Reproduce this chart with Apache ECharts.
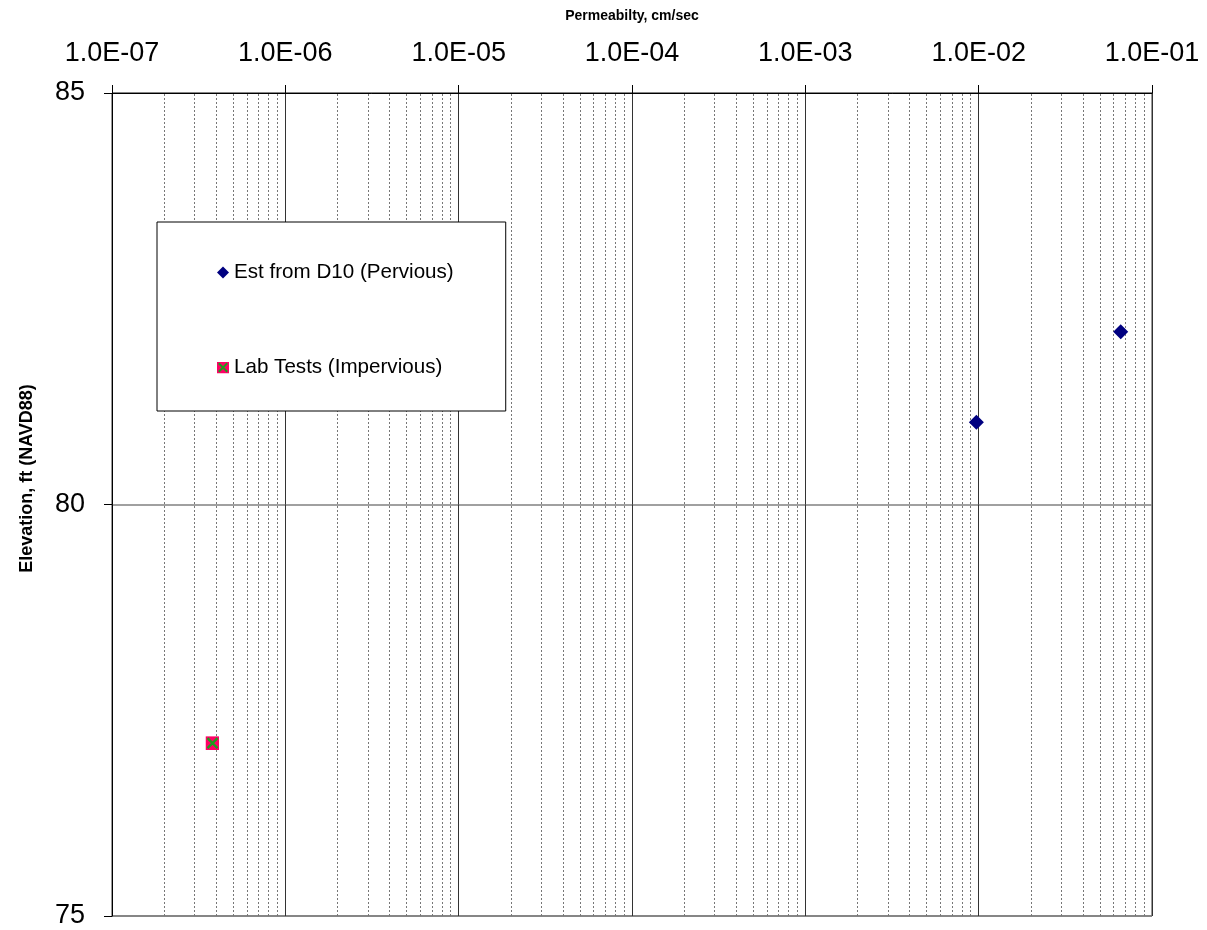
<!DOCTYPE html>
<html>
<head>
<meta charset="utf-8">
<script src="https://cdn.jsdelivr.net/npm/echarts@6/dist/echarts.min.js"></script>
<style>
html,body{margin:0;padding:0;background:#fff;}
#chart{width:1207px;height:930px;}
</style>
</head>
<body>
<div id="chart"></div>
<script>
// ---- data ----
const perviousK = [0.0097, 0.066];
const perviousElev = [81.0, 82.1];
const labK = [3.8e-7];
const labElev = [77.1];
const xTickLabels = ['1.0E-07', '1.0E-06', '1.0E-05', '1.0E-04', '1.0E-03', '1.0E-02', '1.0E-01'];
const xDecadeExps = [-7, -6, -5, -4, -3, -2, -1];
const minorMultipliers = [2, 3, 4, 5, 6, 7, 8, 9];
const yTicks = [75, 80, 85];

const seriesNames = ['Est from D10 (Pervious)', 'Lab Tests (Impervious)'];
const FONT = '"Liberation Sans", Arial, sans-serif';

// minor gridline values (2..9 × each decade)
const minorValues = [];
xDecadeExps.slice(0, -1).forEach(e => {
  minorMultipliers.forEach(m => minorValues.push(m * Math.pow(10, e)));
});

const labSvg = "<svg xmlns='http://www.w3.org/2000/svg' width='28' height='28' viewBox='0 0 28 28'>" +
  "<rect width='28' height='28' fill='#FF0066'/>" +
  "<path d='M4 4L24 24M24 4L4 24' stroke='#1E9A1E' stroke-width='4.5'/></svg>";
const labSymbol = 'image://data:image/svg+xml;charset=utf-8,' + encodeURIComponent(labSvg);

const chart = echarts.init(document.getElementById('chart'), null, {renderer: 'canvas'});

const option = {
  animation: false,
  backgroundColor: '#fff',
  grid: {
    left: 112, right: 55, top: 93, bottom: 14,
    containLabel: false,
    outerBoundsMode: 'none',
    show: true, borderColor: '#333', borderWidth: 1, backgroundColor: 'transparent'
  },
  xAxis: {
    type: 'log',
    logBase: 10,
    position: 'top',
    min: 1e-7,
    max: 1e-1,
    name: 'Permeabilty, cm/sec',
    nameLocation: 'middle',
    nameGap: 70,
    nameMoveOverlap: false,
    nameTextStyle: {fontFamily: FONT, fontSize: 14, fontWeight: 'bold', color: '#000'},
    axisLine: {show: true, lineStyle: {color: '#000', width: 1}},
    axisTick: {show: true, inside: false, length: 8, lineStyle: {color: '#000'}},
    axisLabel: {
      fontFamily: FONT, fontSize: 27, color: '#000', margin: 26,
      formatter: function (v) {
        const e = Math.round(Math.log10(v));
        const i = xDecadeExps.indexOf(e);
        return i >= 0 ? xTickLabels[i] : '';
      }
    },
    splitLine: {show: true, lineStyle: {color: '#333', width: 1}},
    minorTick: {show: false},
    minorSplitLine: {show: false}
  },
  yAxis: {
    type: 'value',
    min: yTicks[0],
    max: yTicks[yTicks.length - 1],
    interval: 5,
    name: 'Elevation, ft (NAVD88)',
    nameLocation: 'middle',
    nameGap: 76,
    nameRotate: 90,
    nameMoveOverlap: false,
    nameTextStyle: {fontFamily: FONT, fontSize: 18, fontWeight: 'bold', color: '#000', padding: [0, 0, 0, 52]},
    axisLine: {show: true, lineStyle: {color: '#000', width: 1}},
    axisTick: {show: true, inside: false, length: 8, lineStyle: {color: '#000'}},
    axisLabel: {fontFamily: FONT, fontSize: 27, color: '#000', margin: 27},
    splitLine: {show: true, lineStyle: {color: '#808080', width: 1.5}}
  },
  legend: {
    data: seriesNames,
    orient: 'vertical',
    left: 157,
    top: 222,
    padding: [40, 52, 33, 60],
    itemGap: 74,
    itemWidth: 12,
    itemHeight: 12,
    borderColor: '#000',
    borderWidth: 1,
    backgroundColor: '#fff',
    textStyle: {fontFamily: FONT, fontSize: 20.6, color: '#000'},
    selectedMode: false
  },
  series: [
    {
      name: 'minor-grid',
      type: 'lines',
      coordinateSystem: 'cartesian2d',
      silent: true,
      z: 1,
      polyline: false,
      lineStyle: {color: '#777', width: 1, type: [2, 2], opacity: 1},
      data: minorValues.map(v => ({coords: [[v, yTicks[0]], [v, yTicks[yTicks.length - 1]]]}))
    },
    {
      name: seriesNames[0],
      type: 'scatter',
      symbol: 'diamond',
      symbolSize: 15,
      z: 5,
      itemStyle: {color: '#000080', opacity: 1},
      data: perviousK.map((k, i) => [k, perviousElev[i]])
    },
    {
      name: seriesNames[1],
      type: 'scatter',
      symbol: labSymbol,
      symbolSize: 14,
      z: 5,
      itemStyle: {color: '#FF0066', opacity: 1},
      data: labK.map((k, i) => [k, labElev[i]])
    }
  ]
};
chart.setOption(option);
</script>
</body>
</html>
